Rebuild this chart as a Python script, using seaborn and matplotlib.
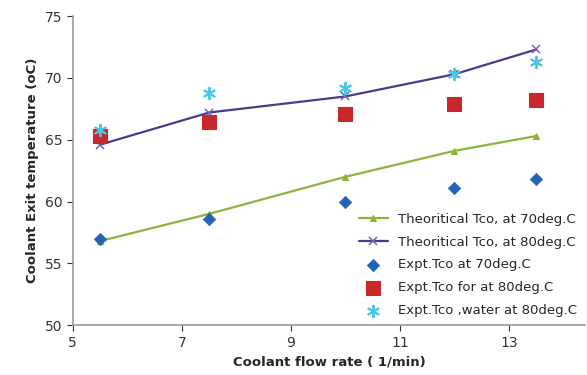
import pandas as pd
import matplotlib
matplotlib.use("Agg")
import matplotlib.pyplot as plt
import seaborn as sns

# Данные
flow_rate = [5.5, 7.5, 10, 12, 13.5]
theo_70 = [56.8, 59.0, 62.0, 64.1, 65.3]
theo_80 = [64.6, 67.2, 68.5, 70.3, 72.3]
expt_70 = [57.0, 58.6, 60.0, 61.1, 61.8]
expt_80 = [65.3, 66.4, 67.1, 67.9, 68.2]
expt_water_80 = [65.8, 68.8, 69.2, 70.3, 71.3]

x_ticks = [5, 7, 9, 11, 13]
y_ticks = [50, 55, 60, 65, 70, 75]

df = pd.DataFrame({
    "flow": flow_rate,
    "theo_70": theo_70,
    "theo_80": theo_80,
    "expt_70": expt_70,
    "expt_80": expt_80,
    "expt_water_80": expt_water_80,
})

sns.set_style("white")
plt.rcParams['font.family'] = ['DejaVu Sans']

fig = plt.figure(figsize=(5.87, 3.75), dpi=100)
ax = fig.add_axes([0.124, 0.133, 0.873, 0.824])

sns.lineplot(data=df, x="flow", y="theo_70", ax=ax, color="#8DB43A", lw=1.6,
             marker="^", markersize=5, markeredgecolor="#8DB43A",
             label="Theoritical Tco, at 70deg.C")
sns.lineplot(data=df, x="flow", y="theo_80", ax=ax, color="#4B3A8C", lw=1.6,
             marker="x", markersize=6, markeredgecolor="#7A5FB0", markeredgewidth=1.1,
             label="Theoritical Tco, at 80deg.C")
sns.scatterplot(data=df, x="flow", y="expt_70", ax=ax, color="#2463B5", marker="D",
                s=40, edgecolor="#2463B5", label="Expt.Tco at 70deg.C", zorder=3)
sns.scatterplot(data=df, x="flow", y="expt_80", ax=ax, color="#C8282C", marker="s",
                s=95, edgecolor="#C8282C", label="Expt.Tco for at 80deg.C", zorder=3)
sns.scatterplot(data=df, x="flow", y="expt_water_80", ax=ax, color="#48C6E6",
                marker=(6, 2, 0), s=70, linewidth=1.4,
                label="Expt.Tco ,water at 80deg.C", zorder=3)

ax.set_xlim(5, 14.4)
ax.set_ylim(50, 75)
ax.set_xticks(x_ticks)
ax.set_yticks(y_ticks)
ax.tick_params(axis="both", labelsize=10, colors="#333333", length=4,
               direction="out", left=True, bottom=True)
ax.set_xlabel("Coolant flow rate ( 1/min)", fontsize=9.5, fontweight="bold")
ax.set_ylabel("Coolant Exit temperature (oC)", fontsize=9.5, fontweight="bold")

for side in ["top", "right"]:
    ax.spines[side].set_visible(False)
for side in ["left", "bottom"]:
    ax.spines[side].set_color("#999999")
    ax.spines[side].set_linewidth(1.2)

ax.legend(loc="lower right", frameon=False, fontsize=9.5, handlelength=2.2,
          labelspacing=0.75, borderaxespad=0.2)

fig.savefig("out.png", dpi=100)
